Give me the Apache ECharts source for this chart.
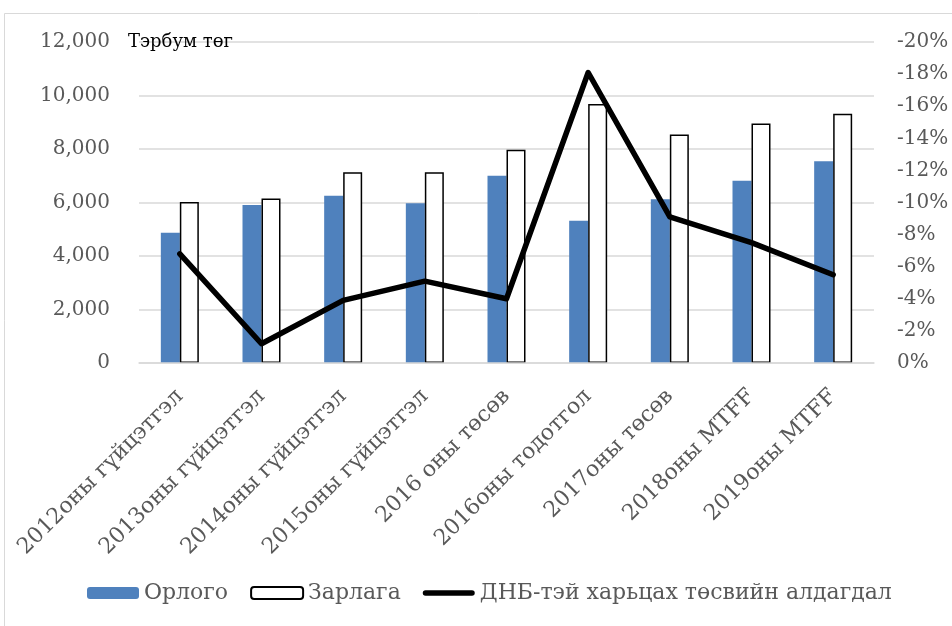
<!DOCTYPE html>
<html>
<head>
<meta charset="utf-8">
<script src="https://cdn.jsdelivr.net/npm/echarts@6/dist/echarts.min.js"></script>
<style>
    html, body { margin: 0; padding: 0; background: #fff; }
    #budget_chart { width: 952px; height: 626px; }
</style>
</head>
<body>
<div id="budget_chart"></div>
<script>
// categories and series
var categories = ['2012оны гүйцэтгэл', '2013оны гүйцэтгэл', '2014оны гүйцэтгэл', '2015оны гүйцэтгэл',
    '2016 оны төсөв', '2016оны тодотгол', '2017оны төсөв', '2018оны MTFF', '2019оны MTFF'];
var orlogo = [4865, 5910, 6250, 5975, 7000, 5315, 6125, 6810, 7545];
var zarlaga = [6015, 6150, 7135, 7135, 7970, 9680, 8545, 8955, 9320];
var deficit = [6.8, 1.2, 3.9, 5.1, 4.0, 18.1, 9.1, 7.5, 5.5];   // % of GDP, shown as negative
var seriesNames = ['Орлого', 'Зарлага', 'ДНБ-тэй харьцах төсвийн алдагдал'];
var unitLabel = 'Тэрбум төг';

var font = 'DejaVu Serif';
var grey = '#595959';

var chart = echarts.init(document.getElementById('budget_chart'));

var option = {
    animation: false,
    backgroundColor: '#fff',
    textStyle: { fontFamily: font },
    title: {
        text: unitLabel,
        left: 123,
        top: 28,
        textStyle: { fontFamily: font, fontSize: 18, fontWeight: 'normal', color: '#000' }
    },
    graphic: [{
        type: 'rect',
        shape: { x: 4.5, y: 13.5, width: 1000, height: 700 },
        style: { fill: 'none', stroke: '#d9d9d9', lineWidth: 1 },
        silent: true
    }],
    legend: {
        left: 82,
        bottom: 17,
        itemWidth: 52,
        itemHeight: 12,
        itemGap: 22,
        textStyle: { fontFamily: font, fontSize: 22, color: grey },
        data: [
            { name: seriesNames[0] },
            { name: seriesNames[1] },
            // thick rounded stroke, like the reference key
            { name: seriesNames[2], icon: 'path://M3,0 L53,0 A3,3 0 0 1 53,6 L3,6 A3,3 0 0 1 3,0 Z' }
        ]
    },
    grid: {
        left: 139,
        right: 78,
        top: 42,
        bottom: 263,
        outerBoundsMode: 'none'
    },
    xAxis: {
        type: 'category',
        data: categories,
        z: 10,
        axisLine: { lineStyle: { color: '#d9d9d9', width: 1.5 } },
        axisTick: { show: false },
        axisLabel: {
            rotate: 45,
            margin: 30,
            color: grey,
            fontFamily: font,
            fontSize: 22
        }
    },
    yAxis: [
        {
            type: 'value',
            min: 0,
            max: 12000,
            interval: 2000,
            axisLine: { show: false },
            axisTick: { show: false },
            splitLine: { lineStyle: { color: '#d9d9d9', width: 1.5 } },
            axisLabel: {
                margin: 29,
                color: grey,
                fontFamily: font,
                fontSize: 20,
                formatter: function (v) { return v.toLocaleString('en-US'); }
            }
        },
        {
            type: 'value',
            min: 0,
            max: 20,
            interval: 2,
            position: 'right',
            axisLine: { show: false },
            axisTick: { show: false },
            splitLine: { show: false },
            axisLabel: {
                margin: 23,
                color: grey,
                fontFamily: font,
                fontSize: 20,
                formatter: function (v) { return v === 0 ? '0%' : '-' + v + '%'; }
            }
        }
    ],
    series: [
        {
            name: seriesNames[0],
            type: 'bar',
            barWidth: 19,
            barGap: '0%',
            itemStyle: { color: '#4f81bd' },
            data: orlogo
        },
        {
            name: seriesNames[1],
            type: 'bar',
            barWidth: 19,
            barGap: '0%',
            itemStyle: { color: '#fff', borderColor: '#000', borderWidth: 1.5 },
            data: zarlaga
        },
        {
            name: seriesNames[2],
            type: 'line',
            yAxisIndex: 1,
            symbol: 'none',
            lineStyle: { color: '#000', width: 5.5, cap: 'round', join: 'round' },
            itemStyle: { color: '#000' },
            z: 5,
            data: deficit
        }
    ]
};

chart.setOption(option);

window.addEventListener('resize', function () {
    chart.resize();
});
</script>
</body>
</html>
